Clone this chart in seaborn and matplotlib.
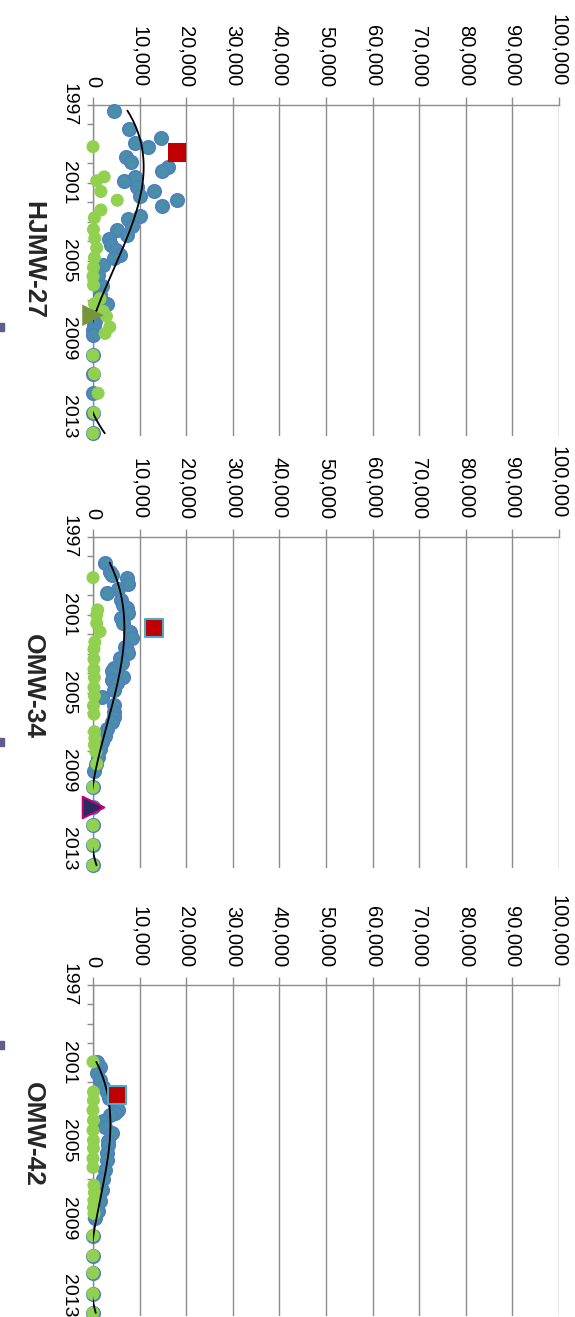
import numpy as np
import matplotlib
matplotlib.use("Agg")
import matplotlib.pyplot as plt
from matplotlib.patches import Rectangle
import seaborn as sns

# ---------------- data ----------------
wells = ["HJMW-27", "OMW-34", "OMW-42"]

value_ticks = [0, 10000, 20000, 30000, 40000, 50000, 60000, 70000, 80000, 90000, 100000]
year_ticks = list(range(1997, 2014))
year_labels = ["1997", "", "", "", "2001", "", "", "", "2005", "", "", "", "2009", "", "", "", "2013"]

# HJMW-27
hj_blue_year = [1997.3, 1998.23, 1998.7, 1998.95, 1999.15, 1999.67, 1999.92, 2000.2, 2000.4,
                2000.7, 2000.9, 2001.2, 2001.42, 2001.7, 2001.9, 2002.2, 2002.7, 2002.85,
                2003.2, 2003.4, 2003.7, 2003.9, 2004.2, 2004.45, 2004.7, 2004.85, 2005.2,
                2005.75, 2006.3, 2006.75, 2007.2, 2007.6, 2008.1, 2008.3, 2008.55, 2008.8,
                2009.85, 2010.8, 2011.8, 2012.8, 2013.85]
hj_blue_val = [4500, 7800, 14600, 9000, 11900, 7100, 8200, 16000, 14900,
               9000, 6700, 9400, 13000, 10000, 18000, 14900, 10100, 7600,
               8300, 5100, 7200, 3400, 3900, 4900, 5800, 4600, 2200,
               1100, 1900, 1500, 2900, 900, 400, 200, 100, 0,
               0, 0, 0, 0, 0]
hj_green_year = [1999.15, 2000.7, 2000.9, 2001.45, 2001.9, 2002.4, 2002.8, 2003.4, 2003.85,
                 2004.35, 2004.85, 2005.35, 2005.8, 2006.25, 2006.95, 2007.2, 2007.6, 2007.85,
                 2008.4, 2008.73, 2009.85, 2010.8, 2011.8, 2012.8, 2013.85]
hj_green_val = [0, 2400, 800, 1700, 5200, 1700, 300, 100, 400,
                800, 300, 100, 0, 100, 1500, 300, 2200, 2900,
                3600, 2600, 0, 300, 1100, 200, 0]
hj_red_year = [1999.45]
hj_red_val = [18000]
hj_tri_year = [2007.8]
hj_tri_val = [0]

# OMW-34
o34_blue_year = [1998.33, 1998.8, 1998.97, 1999.1, 1999.43, 1999.7, 1999.87, 2000.25, 2000.5,
                 2000.67, 2000.93, 2001.18, 2001.44, 2001.87, 2002.2, 2002.64, 2002.8, 2002.97,
                 2003.2, 2003.5, 2003.75, 2003.9, 2004.17, 2004.35, 2004.52, 2004.86, 2005.2,
                 2005.64, 2006.0, 2006.25, 2006.5, 2006.85, 2007.2, 2007.54, 2007.9, 2008.3,
                 2008.65, 2009.0, 2009.85, 2010.85, 2011.8, 2012.8, 2013.85]
o34_blue_val = [2600, 3700, 4000, 7200, 7500, 5400, 2900, 6000, 6500,
                7200, 7500, 6000, 6500, 8000, 8300, 6900, 7200, 7600,
                5800, 6200, 4400, 4000, 6500, 4000, 5100, 4400, 1900,
                4400, 4400, 4600, 4000, 2900, 2600, 1900, 1500, 1000,
                600, 200, 0, 0, 0, 0, 0]
o34_green_year = [1999.1, 2000.75, 2001.0, 2001.44, 2001.87, 2002.4, 2002.77, 2003.28, 2003.8,
                  2004.22, 2004.73, 2005.16, 2005.67, 2006.1, 2007.0, 2007.34, 2007.68, 2008.03,
                  2008.65, 2009.85, 2011.8, 2012.8, 2013.85]
o34_green_val = [0, 1000, 800, 800, 1500, 400, 200, 200, 200,
                 300, 200, 300, 100, 200, 300, 400, 300, 600,
                 800, 0, 0, 0, 0]
o34_red_year = [2001.7]
o34_red_val = [13000]
o34_tri_year = [2010.85]
o34_tri_val = [0]

# OMW-42
o42_blue_year = [2000.95, 2001.2, 2001.55, 2001.9, 2002.25, 2002.5, 2002.8, 2003.0, 2003.3,
                 2003.44, 2003.6, 2003.7, 2004.0, 2004.3, 2004.63, 2005.0, 2005.25, 2005.66,
                 2006.0, 2006.5, 2007.0, 2007.55, 2008.1, 2008.6, 2009.0, 2009.89, 2010.92,
                 2011.8, 2012.88, 2013.86]
o42_blue_val = [800, 1500, 800, 1500, 2200, 2900, 3500, 4400, 5100,
                5400, 4700, 3700, 2200, 2600, 4000, 3300, 3300, 2900,
                2900, 2600, 2200, 1900, 1500, 1100, 400, 0, 0,
                0, 0, 0]
o42_green_year = [2000.95, 2002.5, 2002.93, 2003.44, 2003.96, 2004.47, 2004.99, 2005.4, 2005.92,
                  2006.38, 2007.3, 2007.67, 2008.08, 2008.44, 2008.75, 2009.89, 2010.92, 2011.8,
                  2012.88, 2013.86]
o42_green_val = [0, 100, 100, 0, 100, 0, 100, 100, 0,
                 0, 200, 300, 200, 100, 200, 0, 0, 0,
                 0, 0]
o42_red_year = [2002.67]
o42_red_val = [5100]

# ---------------- styling ----------------
W, H = 575, 1317
GRID = "#8C8C8C"
BLUE_FACE = "#4A8FA8"
BLUE_EDGE = "#4F81BD"
GREEN = "#92D050"
RED = "#C00000"
TEAL = "#4BACC6"

sns.set_theme(style="white")
plt.rcParams["font.family"] = ["Liberation Sans", "DejaVu Sans"]

fig = plt.figure(figsize=(W / 100, H / 100), dpi=100)


def px_axes(x0, y0, x1, y1):
    return fig.add_axes([x0 / W, 1 - y1 / H, (x1 - x0) / W, (y1 - y0) / H])


panels = [
    dict(name=wells[0], top=104.7, bot=436.2, title_y=260,
         blue=(hj_blue_year, hj_blue_val), green=(hj_green_year, hj_green_val),
         red=(hj_red_year, hj_red_val), red_edge=None,
         tri=(hj_tri_year, hj_tri_val), tri_face="#77933C", tri_edge=None, mark_y=327),
    dict(name=wells[1], top=536.7, bot=868.2, title_y=686,
         blue=(o34_blue_year, o34_blue_val), green=(o34_green_year, o34_green_val),
         red=(o34_red_year, o34_red_val), red_edge=TEAL,
         tri=(o34_tri_year, o34_tri_val), tri_face="#2B2A5C", tri_edge="#C0007A", mark_y=742),
    dict(name=wells[2], top=985.0, bot=1315.6, title_y=1134,
         blue=(o42_blue_year, o42_blue_val), green=(o42_green_year, o42_green_val),
         red=(o42_red_year, o42_red_val), red_edge=TEAL,
         tri=None, tri_face=None, tri_edge=None, mark_y=1045),
]

for p in panels:
    ax = px_axes(93, p["top"], 559, p["bot"])
    ax.set_facecolor("none")

    by, bv = p["blue"]
    gy, gv = p["green"]
    ry, rv = p["red"]

    sns.scatterplot(x=bv, y=by, ax=ax, s=88, color=BLUE_FACE, edgecolor=BLUE_EDGE,
                    linewidth=1.5, clip_on=False, zorder=3)
    sns.scatterplot(x=gv, y=gy, ax=ax, s=88, color=GREEN, edgecolor="none",
                    linewidth=0, clip_on=False, zorder=4)

    # cubic trend of the blue series over its own year span
    yrs = np.asarray(by, dtype=float)
    coef = np.polyfit(yrs - 2005, np.asarray(bv, dtype=float), 3)
    t = np.linspace(yrs.min(), yrs.max(), 300)
    ax.plot(np.polyval(coef, t - 2005), t, color="black", lw=1.3, zorder=6)

    sns.scatterplot(x=rv, y=ry, ax=ax, marker="s", s=180, color=RED,
                    edgecolor=p["red_edge"] if p["red_edge"] else "none",
                    linewidth=1.5 if p["red_edge"] else 0, clip_on=False, zorder=7)
    if p["tri"] is not None:
        ty, tv = p["tri"]
        sns.scatterplot(x=tv, y=ty, ax=ax, marker=">", s=240, color=p["tri_face"],
                        edgecolor=p["tri_edge"] if p["tri_edge"] else "none",
                        linewidth=1.5 if p["tri_edge"] else 0, clip_on=False, zorder=8)

    ax.set_xlim(value_ticks[0], value_ticks[-1])
    ax.set_ylim(2014, 1997)

    ax.xaxis.tick_top()
    ax.set_xticks(value_ticks)
    ax.set_xticklabels([f"{v:,}" for v in value_ticks], rotation=-90)
    ax.tick_params(axis="x", top=True, bottom=False, direction="out", length=6,
                   width=1.0, color=GRID, labelsize=14.5, pad=7, labelcolor="black")

    ax.set_yticks(year_ticks)
    ax.set_yticklabels(year_labels, rotation=-90, va="center")
    ax.tick_params(axis="y", left=True, direction="out", length=4.5,
                   width=1.0, color=GRID, labelsize=14, pad=7, labelcolor="black")

    ax.grid(axis="x", color=GRID, lw=1.0)
    ax.grid(axis="y", visible=False)
    ax.set_axisbelow(True)
    for side in ("right", "bottom"):
        ax.spines[side].set_visible(False)
    for side in ("left", "top"):
        ax.spines[side].set_visible(True)
        ax.spines[side].set_color(GRID)
        ax.spines[side].set_linewidth(1.0)
    ax.set_xlabel("")
    ax.set_ylabel("")

    fig.text(33 / W, 1 - p["title_y"] / H, p["name"], rotation=-90, ha="center",
             va="center", fontsize=19, fontweight="bold")

    # clipped legend swatch at the left margin
    fig.patches.append(Rectangle((-2 / W, 1 - (p["mark_y"] + 4) / H), 6 / W, 8 / H,
                                 transform=fig.transFigure, color="#5E5E8E",
                                 figure=fig))

fig.savefig("out.png", dpi=100)
